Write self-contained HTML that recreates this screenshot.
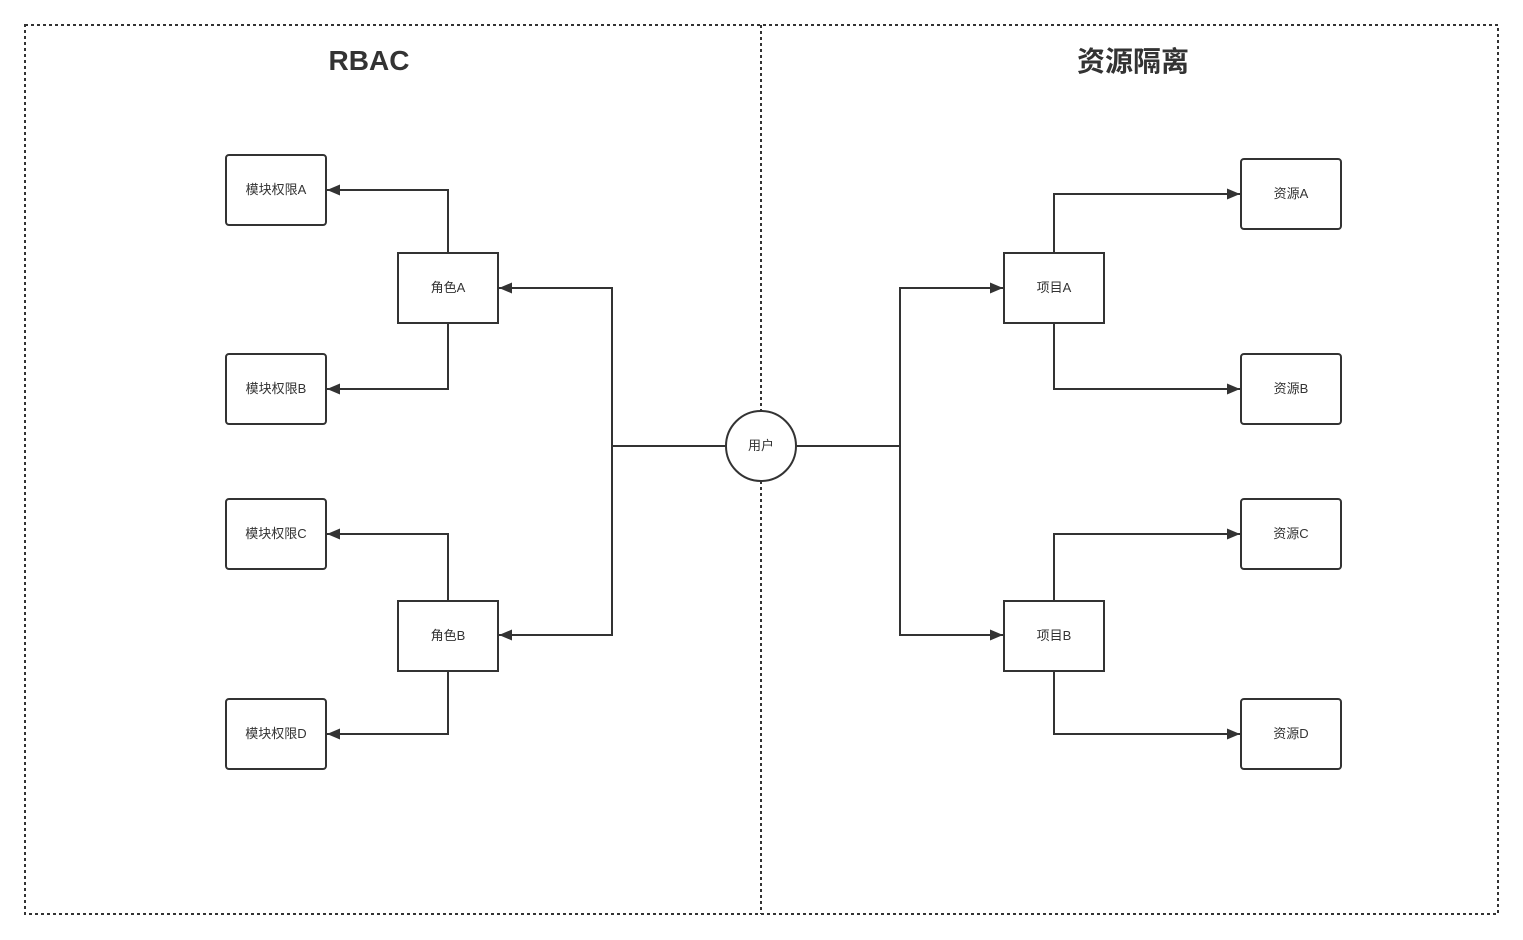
<!DOCTYPE html>
<html><head><meta charset="utf-8"><style>
html,body{margin:0;padding:0;background:#fff;}
svg{display:block;}
text{font-family:"Liberation Sans","Noto Sans CJK SC",sans-serif;fill:#333;}
</style></head><body>
<svg width="1523" height="940" viewBox="0 0 1523 940" xmlns="http://www.w3.org/2000/svg">
<defs>
<marker id="ar" markerWidth="13" markerHeight="11" refX="13" refY="5.5" orient="auto" markerUnits="userSpaceOnUse">
<path d="M0,0 L13,5.5 L0,11 Z" fill="#333"/>
</marker>
</defs>
<g fill="none" stroke="#333" stroke-width="2" stroke-dasharray="3 3">
<rect x="25" y="25" width="1473" height="889"/>
<line x1="761" y1="25" x2="761" y2="914"/>
</g>
<text x="369" y="70" font-size="28" font-weight="bold" text-anchor="middle">RBAC</text>
<text x="1133" y="71" font-size="28" font-weight="bold" text-anchor="middle">资源隔离</text>

<g fill="#fff" stroke="#333" stroke-width="2">
<rect x="226" y="155" width="100" height="70" rx="3"/>
<rect x="226" y="354" width="100" height="70" rx="3"/>
<rect x="226" y="499" width="100" height="70" rx="3"/>
<rect x="226" y="699" width="100" height="70" rx="3"/>
<rect x="398" y="253" width="100" height="70"/>
<rect x="398" y="601" width="100" height="70"/>
<rect x="1004" y="253" width="100" height="70"/>
<rect x="1004" y="601" width="100" height="70"/>
<rect x="1241" y="159" width="100" height="70" rx="3"/>
<rect x="1241" y="354" width="100" height="70" rx="3"/>
<rect x="1241" y="499" width="100" height="70" rx="3"/>
<rect x="1241" y="699" width="100" height="70" rx="3"/>
<circle cx="761" cy="446" r="35"/>
</g>

<g fill="none" stroke="#333" stroke-width="2">
<polyline points="448,253 448,190 327,190" marker-end="url(#ar)"/>
<polyline points="448,323 448,389 327,389" marker-end="url(#ar)"/>
<polyline points="448,601 448,534 327,534" marker-end="url(#ar)"/>
<polyline points="448,671 448,734 327,734" marker-end="url(#ar)"/>
<line x1="726" y1="446" x2="612" y2="446"/>
<polyline points="612,446 612,288 499,288" marker-end="url(#ar)"/>
<polyline points="612,446 612,635 499,635" marker-end="url(#ar)"/>
<line x1="796" y1="446" x2="900" y2="446"/>
<polyline points="900,446 900,288 1003,288" marker-end="url(#ar)"/>
<polyline points="900,446 900,635 1003,635" marker-end="url(#ar)"/>
<polyline points="1054,253 1054,194 1240,194" marker-end="url(#ar)"/>
<polyline points="1054,323 1054,389 1240,389" marker-end="url(#ar)"/>
<polyline points="1054,601 1054,534 1240,534" marker-end="url(#ar)"/>
<polyline points="1054,671 1054,734 1240,734" marker-end="url(#ar)"/>
</g>

<g font-size="13" text-anchor="middle">
<text x="276" y="194">模块权限A</text>
<text x="276" y="393">模块权限B</text>
<text x="276" y="538">模块权限C</text>
<text x="276" y="738">模块权限D</text>
<text x="448" y="292">角色A</text>
<text x="448" y="640">角色B</text>
<text x="761" y="450">用户</text>
<text x="1054" y="292">项目A</text>
<text x="1054" y="640">项目B</text>
<text x="1291" y="198">资源A</text>
<text x="1291" y="393">资源B</text>
<text x="1291" y="538">资源C</text>
<text x="1291" y="738">资源D</text>
</g>
</svg>
</body></html>
